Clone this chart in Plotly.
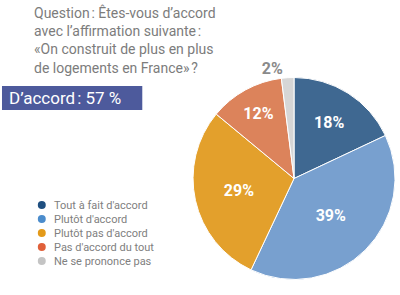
import plotly.graph_objects as go

categories = ["Tout à fait d'accord", "Plutôt d'accord", "Plutôt pas d'accord",
              "Pas d'accord du tout", "Ne se prononce pas"]
values = [18, 39, 29, 12, 2]
colors = ["#3f6891", "#78a0cf", "#e3a02c", "#dc835b", "#d6d6d6"]
legend_dot_colors = ["#1f4f80", "#4b8ccc", "#e39a1a", "#e0603a", "#c4c4c4"]
title_lines = ["Question\u202f: Êtes-vous d\u2019accord",
               "avec l\u2019affirmation suivante\u202f:",
               "«On construit de plus en plus",
               "de logements en France»\u202f?"]
highlight = "D\u2019accord\u202f: 57 %"

W, H = 400, 295
def px(x): return x / W
def py(y): return 1 - y / H

fig = go.Figure()
fig.add_trace(go.Pie(
    labels=categories, values=values, sort=False, direction="clockwise",
    rotation=0,
    marker=dict(colors=colors, line=dict(color="white", width=1)),
    texttemplate="<b>%{value}%</b>",
    textposition=["inside", "inside", "inside", "inside", "outside"],
    textfont=dict(family="Roboto", size=16,
                  color=["white", "white", "white", "white", "#8a8a8a"]),
    insidetextorientation="horizontal",
    showlegend=False, hoverinfo="skip",
    domain=dict(x=[px(194), px(397)], y=[py(280), py(77)]),
))

annotations = []
annotations.append(dict(
    text="<br>".join(title_lines), x=px(32), y=py(2), xref="paper", yref="paper",
    xanchor="left", yanchor="top", align="left", showarrow=False,
    font=dict(family="Roboto", size=14, color="#7c7c7c")))

shapes = [dict(type="rect", xref="paper", yref="paper",
               x0=px(2), x1=px(143), y0=py(110), y1=py(86),
               fillcolor="#4d5a9c", line=dict(width=0))]
annotations.append(dict(
    text=highlight, x=px(7), y=py(98), xref="paper", yref="paper",
    xanchor="left", yanchor="middle", showarrow=False,
    font=dict(family="Roboto", size=17, color="white")))

for i, (cat, c) in enumerate(zip(categories, legend_dot_colors)):
    y = 205 + i * 14
    shapes.append(dict(type="circle", xref="paper", yref="paper",
                       x0=px(38), x1=px(46), y0=py(y + 4), y1=py(y - 4),
                       fillcolor=c, line=dict(width=0)))
    annotations.append(dict(
        text=cat, x=px(52), y=py(y), xref="paper", yref="paper",
        xanchor="left", yanchor="middle", showarrow=False,
        font=dict(family="Roboto", size=11, color="#808080")))

fig.update_layout(
    width=W, height=H, margin=dict(l=0, r=0, t=0, b=0),
    paper_bgcolor="white", plot_bgcolor="white",
    annotations=annotations, shapes=shapes,
)
fig.write_html("out.html")
